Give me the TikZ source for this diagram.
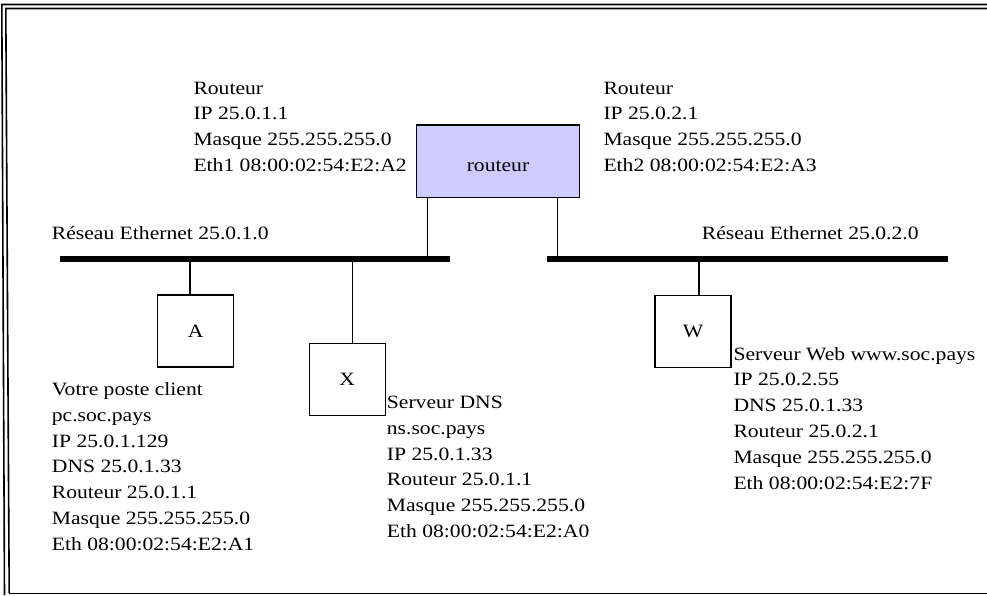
\documentclass[tikz,border=0pt]{standalone}
\usepackage{fontspec}
\setmainfont[FakeStretch=1.15]{Liberation Serif}
\usetikzlibrary{positioning}
\definecolor{routerfill}{RGB}{204,204,255}

\begin{document}
\begin{tikzpicture}[
      x=1pt, y=-1pt,
      every node/.style={font=\fontsize{18.8}{25.8}\selectfont},
      info/.style={anchor=base west, align=left, inner sep=0pt},% base = derniere ligne
      host/.style={draw, line width=1.2pt, minimum width=76pt, minimum height=72pt, inner sep=0pt},
      wire/.style={line width=1.2pt},
      bus/.style={line width=6pt},
      frame/.style={line width=1.6pt},
    ]
    \useasboundingbox (0,0) rectangle (987,595);

    % cadre
    \draw[frame] (4.5,595) -- (1.8,4.5) -- (987,4.5);
    \draw[frame] (9.2,593) -- (5.8,8.5) -- (987,8.5);
    \draw[frame] (9.2,593.6) -- (987,593.6);

    % routeur
    \node[draw, fill=routerfill, line width=1.2pt, minimum width=162.6pt, minimum height=72.7pt,
          inner sep=0pt, text height=19.4pt, text depth=0pt] (router) at (498,161.3) {routeur};
    \node[info] (rtr1) at (193.3,171.5) {Routeur\\IP 25.0.1.1\\Masque 255.255.255.0\\Eth1 08:00:02:54:E2:A2};
    \node[info] (rtr2) at (603.3,171.5) {Routeur\\IP 25.0.2.1\\Masque 255.255.255.0\\Eth2 08:00:02:54:E2:A3};

    % reseaux
    \coordinate (bus1a) at (60,259);
    \coordinate (bus1b) at (450,259);
    \coordinate (bus2a) at (546.7,259);
    \coordinate (bus2b) at (948.3,259);
    \draw[bus] (bus1a) -- (bus1b);
    \draw[bus] (bus2a) -- (bus2b);
    \node[info] (net1) at (51.7,239.3) {Réseau Ethernet 25.0.1.0};
    \node[info] (net2) at (701.7,239.3) {Réseau Ethernet 25.0.2.0};

    % postes
    \node[host] (A) at (195.8,331) {A};
    \node[host] (X) at (347.3,379.8) {X};
    \node[host] (W) at (693,331.2) {W};

    \coordinate (tapR1) at (427.7,259);
    \coordinate (tapR2) at (557.7,259);
    \coordinate (tapA) at (190,259);
    \coordinate (tapX) at (352.7,259);
    \coordinate (tapW) at (699,259);
    \draw[wire] (router.south -| tapR1) -- (tapR1);
    \draw[wire] (router.south -| tapR2) -- (tapR2);
    \draw[wire] (tapA) -- (tapA |- A.north);
    \draw[wire] (tapX) -- (tapX |- X.north);
    \draw[wire] (tapW) -- (tapW |- W.north);

    \node[info] (infoA) at (51.7,550.3) {Votre poste client\\pc.soc.pays\\IP 25.0.1.129\\DNS 25.0.1.33\\Routeur 25.0.1.1\\Masque 255.255.255.0\\Eth 08:00:02:54:E2:A1};
    \node[info] (infoX) at (386.7,537.5) {Serveur DNS\\ns.soc.pays\\IP 25.0.1.33\\Routeur 25.0.1.1\\Masque 255.255.255.0\\Eth 08:00:02:54:E2:A0};
    \node[info] (infoW) at (733.3,489) {Serveur Web www.soc.pays\\IP 25.0.2.55\\DNS 25.0.1.33\\Routeur 25.0.2.1\\Masque 255.255.255.0\\Eth 08:00:02:54:E2:7F};

  \end{tikzpicture}
\end{document}
